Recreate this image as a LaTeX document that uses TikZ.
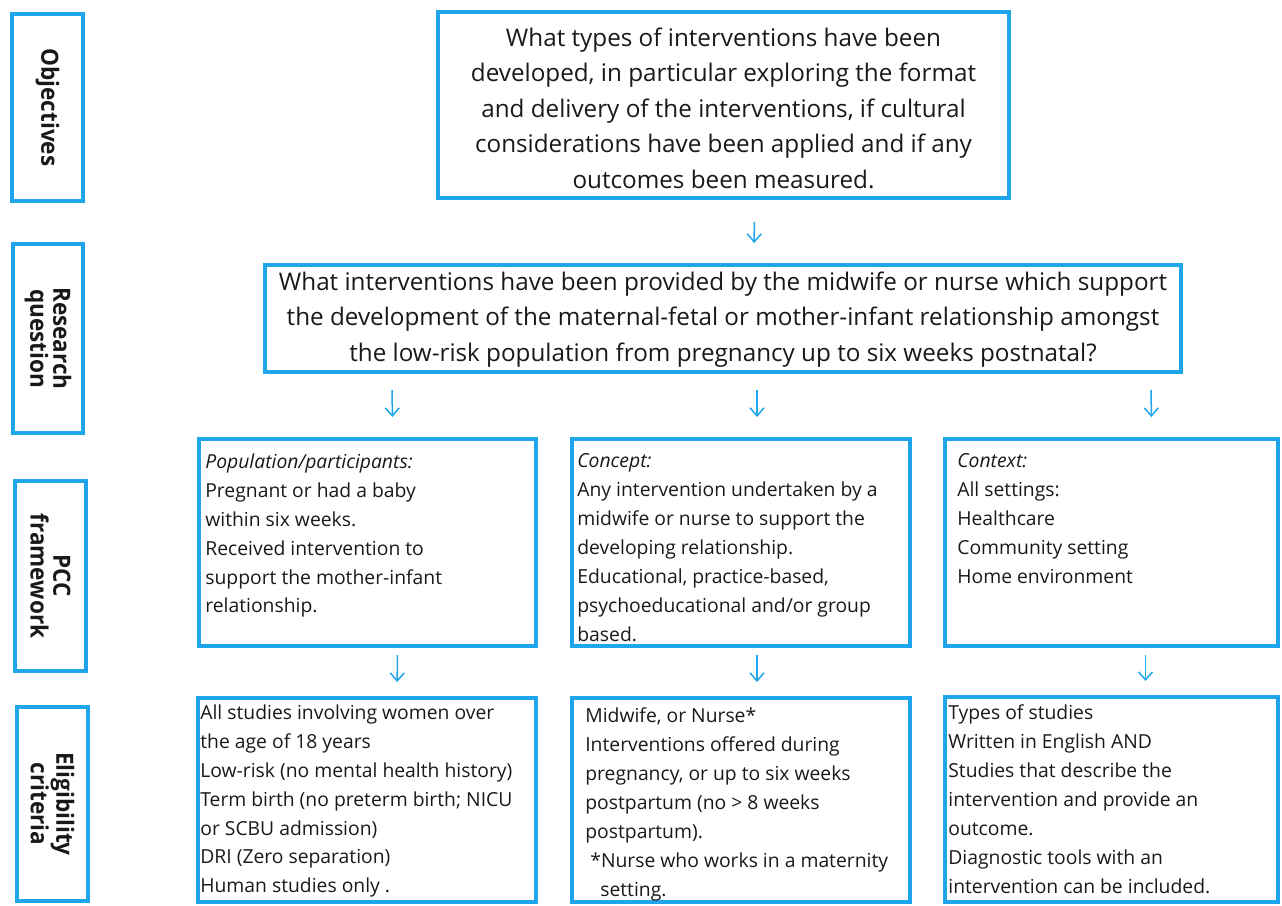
\documentclass[tikz,border=0pt]{standalone}
\usepackage{fontspec}
\setmainfont{Open Sans}
\newfontfamily\labelfont{Open Sans}[FakeStretch=0.95]
\usetikzlibrary{arrows.meta,fit,calc}
\definecolor{boxblue}{RGB}{30,165,236}
\definecolor{inktext}{RGB}{25,25,25}
\tikzset{
  box/.style={draw=boxblue, line width=0.08cm, inner sep=0pt},
  sidebox/.style={box},
  sidelabel/.style={rotate=-90, align=center, text=inktext,
    font={\labelfont\bfseries\fontsize{13.5}{13}\selectfont}},
  bigtext/.style={align=center, text=inktext,
    font={\fontsize{13.8}{20.2}\selectfont}},
  celltext/.style={anchor=north west, align=left, inner sep=0pt, text=inktext,
    font={\fontsize{11}{16.5}\selectfont}},
  arr/.style={draw=boxblue, line width=0.03cm,
    -{Straight Barb[length=0.16cm,width=0.28cm]}}
}
\begin{document}
\begin{tikzpicture}[x=0.02cm,y=-0.02cm]
\useasboundingbox (0,0) rectangle (1282,906);
%side labels
\node[sidebox, fit={(12,14) (83,201)}] (labobj) {};
\node[sidebox, fit={(13,244) (83,433)}] (labrq) {};
\node[sidebox, fit={(15,481) (86,671)}] (labpcc) {};
\node[sidebox, fit={(17,707) (88,901)}] (labelig) {};
\node[sidelabel] (tobj) at (labobj.center) {Objectives};
\node[sidelabel] (trq) at (labrq.center) {Research\\question};
\node[sidelabel] (tpcc) at (labpcc.center) {PCC\\framework};
\node[sidelabel] (telig) at (labelig.center) {Eligibility\\criteria};
%objectives and research question
\node[box, fit={(438,12) (1009,198)}] (obj) {};
\node[bigtext] (tobjq) at ([yshift=-0.06cm]obj.center) {What types of interventions have been\\
  developed, in particular exploring the format\\
  and delivery of the interventions, if cultural\\
  considerations have been applied and if any\\
  outcomes been measured.};
\node[box, fit={(265,265) (1181,372)}] (rq) {};
\node[bigtext] (trqq) at ([yshift=-0.02cm]rq.center) {What interventions have been provided by the midwife or nurse which support\\
  the development of the maternal-fetal or mother-infant relationship amongst\\
  the low-risk population from pregnancy up to six weeks postnatal?};
%PCC framework
\node[box, fit={(199,439) (536,646)}] (pccA) {};
\node[box, fit={(572,439) (910,646)}] (pccB) {};
\node[box, fit={(945,439) (1278,646)}] (pccC) {};
\node[celltext] (tpccA) at ([shift={(8,16)}]pccA.north west) {\textit{Population/participants:}\\
  Pregnant or had a baby\\
  within six weeks.\\
  Received intervention to\\
  support the mother-infant\\
  relationship.};
\node[celltext] (tpccB) at ([shift={(7,16)}]pccB.north west) {\textit{Concept:}\\
  Any intervention undertaken by a\\
  midwife or nurse to support the\\
  developing relationship.\\
  Educational, practice-based,\\
  psychoeducational and/or group\\
  based.};
\node[celltext] (tpccC) at ([shift={(14,16)}]pccC.north west) {\textit{Context:}\\
  All settings:\\
  Healthcare\\
  Community setting\\
  Home environment};
%eligibility criteria
\node[box, fit={(198,698) (536,902)}] (elA) {};
\node[box, fit={(572,698) (910,902)}] (elB) {};
\node[box, fit={(945,697) (1278,902)}] (elC) {};
\node[celltext] (telA) at ([shift={(4,8)}]elA.north west) {All studies involving women over\\
  the age of 18 years\\
  Low-risk (no mental health history)\\
  Term birth (no preterm birth; NICU\\
  or SCBU admission)\\
  DRI (Zero separation)\\
  Human studies only .};
\node[celltext] (telB) at ([shift={(15,11)}]elB.north west) {Midwife, or Nurse*\\
  Interventions offered during\\
  pregnancy, or up to six weeks\\
  postpartum (no > 8 weeks\\
  postpartum).\\
  \hspace*{0.1cm}*Nurse who works in a maternity\\
  \hspace*{0.3cm}setting.};
\node[celltext] (telC) at ([shift={(5,9)}]elC.north west) {Types of studies\\
  Written in English AND\\
  Studies that describe the\\
  intervention and provide an\\
  outcome.\\
  Diagnostic tools with an\\
  intervention can be included.};
%arrows
\draw[arr, shorten <=0.44cm, shorten >=0.4cm] ($(obj.south)+(31,0)$) -- ($(rq.north)+(31,0)$);
\draw[arr, shorten <=0.32cm, shorten >=0.4cm] ($(rq.south)+(-331,0)$) -- ($(pccA.north)+(25,0)$);
\draw[arr, shorten <=0.32cm, shorten >=0.4cm] ($(rq.south)+(34,0)$) -- ($(pccB.north)+(16,0)$);
\draw[arr, shorten <=0.32cm, shorten >=0.4cm] ($(rq.south)+(428,0)$) -- ($(pccC.north)+(40,0)$);
\draw[arr, shorten <=0.14cm, shorten >=0.28cm] ($(pccA.south)+(30,0)$) -- ($(elA.north)+(30,0)$);
\draw[arr, shorten <=0.14cm, shorten >=0.28cm] ($(pccB.south)+(16,0)$) -- ($(elB.north)+(16,0)$);
\draw[arr, shorten <=0.14cm, shorten >=0.28cm] ($(pccC.south)+(34,0)$) -- ($(elC.north)+(34,0)$);
\end{tikzpicture}
\end{document}
